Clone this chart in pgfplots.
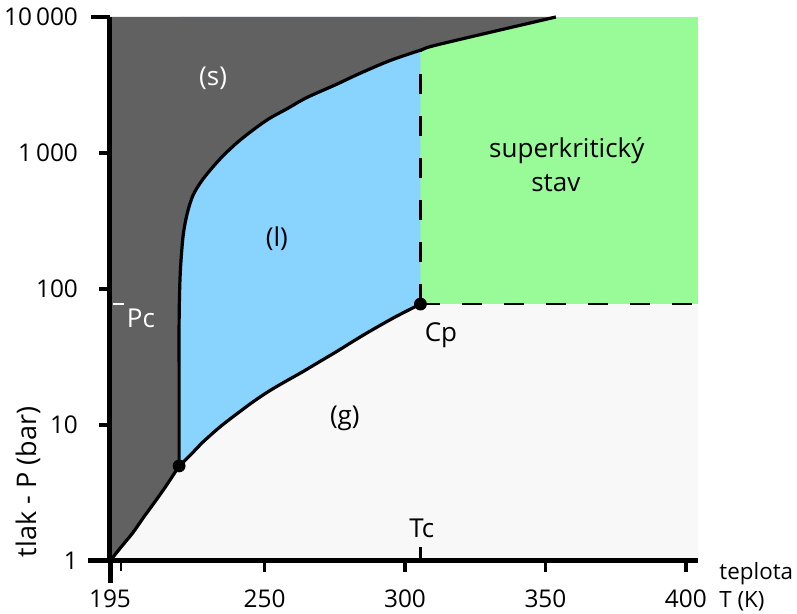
\documentclass[border=0pt]{standalone}
\usepackage{fontspec}
\setmainfont{Open Sans}
\usepackage{pgfplots}
\pgfplotsset{compat=1.18}
\definecolor{solidc}{HTML}{616161}
\definecolor{liqc}{HTML}{88D4FF}
\definecolor{supc}{HTML}{98FB98}
\definecolor{gasc}{HTML}{F8F8F8}
\begin{document}
\begin{tikzpicture}
\useasboundingbox (-55pt,-26.5pt) rectangle (343.5pt,280.5pt);
\begin{axis}[
  at={(0,0)}, anchor=south west,
  scale only axis, width=294pt, height=272pt,
  ymode=log, xmin=195, xmax=404.3, ymin=1, ymax=10000,
  axis x line*=bottom, axis y line*=left,
  axis line style={line width=2.5pt, black},
  axis on top, clip=false,
  font=\fontsize{13}{15}\selectfont,
  tick align=outside, major tick length=5.5pt,
  tick style={line width=1.6pt, black},
  minor tick num=0, yminorticks=false,
  xtick={195,250,300,350,400},
  xticklabels={195,250,300,350,400},
  ytick={1,10,100,1000,10000},
  yticklabels={1,10,100,1\,000,10\,000},
  ticklabel style={font=\fontsize{12.2}{14}\selectfont},
  yticklabel style={xshift=-7pt},
  xticklabel style={yshift=-5.5pt},
  extra x ticks={199}, extra x tick labels={},
  extra x tick style={major tick length=5pt, tick style={line width=1pt}},
]
% gas background
\addplot[fill=gasc, draw=none] coordinates {(195,1)(404.3,1)(404.3,10000)(195,10000)} -- cycle;
% supercritical
\addplot[fill=supc, draw=none] coordinates {(305.5,77.5)(404.3,77.5)(404.3,10000)(305.5,10000)} -- cycle;
% liquid
\addplot[fill=liqc, draw=none] coordinates {(219.6,5.0)(223.5,5.98)(228.1,7.5)(234.1,9.66)(240.2,12.1)(245.9,14.8)(251.9,17.9)(258,21.2)(263.7,24.7)(269.7,29.3)(275.8,34.8)(281.5,41.2)(287.5,48.9)(296.4,62.1)(305.5,77.5)(305.5,10000)(219.6,10000)} -- cycle;
% solid
\addplot[fill=solidc, draw=none] coordinates {(195,1)(199,1.27)(203,1.6)(207,2.1)(211.3,2.78)(215.5,3.7)(219.6,5.0)(219.6,10)(219.6,23.9)(219.6,56)(219.8,100)(220.2,154)(221.1,253)(222.5,360)(224.6,491)(228.2,647)(234.1,901)(240.1,1185)(245.9,1476)(251.6,1787)(257.9,2108)(265,2553)(275.1,3162)(284,3854)(294.6,4776)(305.5,5700)(312.4,6310)(353.7,10000)(195,10000)} -- cycle;
% boundary curves
\addplot[black, line width=1.6pt, smooth] coordinates {(195,1)(199,1.27)(203,1.6)(207,2.1)(211.3,2.78)(215.5,3.7)(219.6,5.0)};
\addplot[black, line width=1.6pt, smooth] coordinates {(219.6,5.0)(219.6,10)(219.6,23.9)(219.6,56)(219.8,100)(220.2,154)(221.1,253)(222.5,360)(224.6,491)(228.2,647)(234.1,901)(240.1,1185)(245.9,1476)(251.6,1787)(257.9,2108)(265,2553)(275.1,3162)(284,3854)(294.6,4776)(305.5,5700)(312.4,6310)(353.7,10000)};
\addplot[black, line width=1.6pt, smooth] coordinates {(219.6,5.0)(223.5,5.98)(228.1,7.5)(234.1,9.66)(240.2,12.1)(245.9,14.8)(251.9,17.9)(258,21.2)(263.7,24.7)(269.7,29.3)(275.8,34.8)(281.5,41.2)(287.5,48.9)(296.4,62.1)(305.5,77.5)};
% dashed critical lines
\addplot[black, line width=1.1pt, dash pattern=on 10pt off 11pt] coordinates {(305.5,77.5)(305.5,5700)};
\addplot[black, line width=1.1pt, dash pattern=on 10pt off 11pt] coordinates {(305.5,77.5)(404.3,77.5)};
% Tc and Pc markers
\addplot[black, line width=1.2pt] coordinates {(305.5,1)(305.5,1.26)};
\addplot[white, line width=1pt] coordinates {(196,77.5)(200,77.5)};
% triple and critical points
\addplot[only marks, mark=*, mark size=3pt, black] coordinates {(219.6,5.0)(305.5,77.5)};
% labels
\node[white] at (axis cs:231.7,3548) {(s)};
\node[black] at (axis cs:254.4,233) {(l)};
\node[black] at (axis cs:357.6,1033) {superkritický};
\node[black] at (axis cs:353.7,598) {stav};
\node[black] at (axis cs:278.6,11.1) {(g)};
\node[black] at (axis cs:312.8,45.6) {Cp};
\node[black] at (axis cs:306,1.73) {Tc};
\node[white] at (axis cs:206,61) {Pc};
\end{axis}
% axis extensions and long top tick
\draw[line width=2.5pt, black] (-11pt,0) -- (0,0);
\draw[line width=2.5pt, black] (0,0) -- (0,-11pt);
\draw[line width=1.6pt, black] (-9.5pt,272pt) -- (0,272pt);
% axis titles
\node[rotate=90, font=\fontsize{13.5}{15}\selectfont] at (-41pt,39.5pt) {tlak - P (bar)};
\node[anchor=west, inner sep=0pt, align=left, font=\fontsize{11.2}{14}\selectfont] at (304.5pt,-13pt) {teplota\\T (K)};
\end{tikzpicture}
\end{document}
